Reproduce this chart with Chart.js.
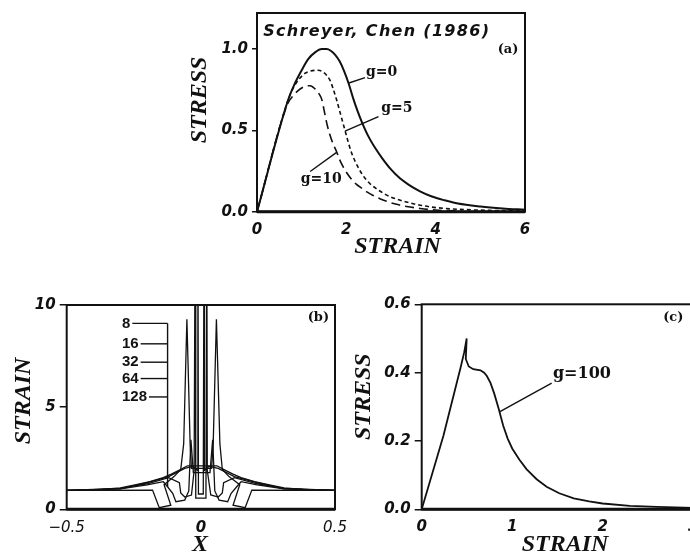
<!DOCTYPE html>
<html><head><meta charset="utf-8">
<script src="https://cdn.jsdelivr.net/npm/chart.js@4.4.1/dist/chart.umd.min.js"></script>
<style>
html,body{margin:0;padding:0;background:#fff;overflow:hidden;width:690px;height:555px;position:relative;}
canvas{position:absolute;}
</style></head><body>
<canvas id="ca" width="360" height="265" style="left:187px;top:0px"></canvas>
<canvas id="cb" width="360" height="275" style="left:0px;top:280px"></canvas>
<canvas id="cc" width="360" height="275" style="left:350px;top:280px"></canvas>
<script>
// ---------- Panel (a): stress-strain, Schreyer & Chen (1986) ----------
const aStrainG0 = [0, 0.7, 0.85, 1.0, 1.15, 1.3, 1.45, 1.56, 1.65, 1.75, 1.85, 1.95, 2.05, 2.15, 2.25, 2.35, 2.5, 2.65, 2.8, 3.0, 3.2, 3.4, 3.65, 3.9, 4.2, 4.5, 5.0, 5.5, 6.0];
const aStressG0 = [0, 0.69, 0.79, 0.87, 0.94, 0.98, 1.0, 1.0, 0.99, 0.965, 0.925, 0.865, 0.79, 0.70, 0.62, 0.55, 0.46, 0.39, 0.33, 0.26, 0.205, 0.165, 0.125, 0.095, 0.07, 0.05, 0.032, 0.02, 0.012];
const aStrainG5 = [0, 0.7, 0.85, 1.07, 1.2, 1.37, 1.5, 1.63, 1.7, 1.78, 1.87, 1.97, 2.05, 2.12, 2.25, 2.38, 2.52, 2.68, 2.85, 3.0, 3.3, 3.6, 3.87, 4.2, 4.5, 5.2, 6.0];
const aStressG5 = [0, 0.69, 0.78, 0.85, 0.865, 0.87, 0.855, 0.81, 0.76, 0.69, 0.6, 0.50, 0.42, 0.36, 0.28, 0.22, 0.175, 0.14, 0.11, 0.09, 0.063, 0.043, 0.03, 0.02, 0.015, 0.008, 0.005];
const aStrainG10 = [0, 0.68, 0.8, 0.92, 1.07, 1.19, 1.3, 1.4, 1.45, 1.52, 1.57, 1.63, 1.7, 1.78, 1.85, 1.93, 2.02, 2.12, 2.22, 2.34, 2.47, 2.6, 2.75, 2.9, 3.1, 3.35, 3.65, 4.0, 4.6];
const aStressG10 = [0, 0.66, 0.71, 0.745, 0.77, 0.775, 0.755, 0.72, 0.69, 0.60, 0.535, 0.475, 0.42, 0.37, 0.32, 0.275, 0.235, 0.198, 0.17, 0.145, 0.12, 0.10, 0.08, 0.064, 0.047, 0.032, 0.02, 0.01, 0.003];
const aXTicks = [0, 2, 4, 6];
const aXTickLabels = ["0", "2", "4", "6"];
const aYTicks = [0, 0.5, 1.0];
const aYTickLabels = ["0.0", "0.5", "1.0"];

// ---------- Panel (b): strain profiles for meshes of 8..128 elements ----------
const bMeshLabels = ["8", "16", "32", "64", "128"];
const bMeshLevels = [9.1, 8.1, 7.2, 6.4, 5.5];
const bX8   = [-0.5, -0.37, -0.3, -0.25, -0.19, -0.14, -0.11, -0.08, -0.05, 0.06, 0.09, 0.12, 0.15, 0.2, 0.26, 0.31, 0.38, 0.5];
const bY8   = [0.93, 0.98, 1.05, 1.18, 1.35, 1.55, 1.72, 1.92, 2.13, 2.13, 1.92, 1.72, 1.55, 1.35, 1.18, 1.05, 0.98, 0.93];
const bX16  = [-0.5, -0.18, -0.155, -0.112, -0.137, -0.1, -0.075, -0.064, -0.052, -0.04, -0.035, 0.04, 0.046, 0.058, 0.071, 0.08, 0.105, 0.145, 0.12, 0.165, 0.19, 0.5];
const bY16  = [0.93, 0.94, 0.08, 0.2, 1.2, 1.6, 1.95, 3.2, 9.3, 3.2, 2.0, 2.0, 3.2, 9.3, 3.2, 1.95, 1.6, 1.2, 0.2, 0.08, 0.94, 0.93];
const bX32  = [-0.5, -0.3, -0.2, -0.14, -0.13, -0.105, -0.093, -0.06, -0.045, -0.037, -0.028, 0.034, 0.044, 0.052, 0.068, 0.1, 0.113, 0.14, 0.15, 0.21, 0.31, 0.5];
const bY32  = [0.93, 1.0, 1.2, 1.35, 1.2, 0.78, 0.37, 0.45, 0.9, 3.4, 1.8, 1.8, 3.4, 0.9, 0.45, 0.37, 0.78, 1.2, 1.35, 1.2, 1.0, 0.93];
const bX64  = [-0.5, -0.3, -0.2, -0.12, -0.08, -0.075, -0.06, -0.035, -0.025, -0.021, -0.019, 0.019, 0.022, 0.024, 0.037, 0.065, 0.08, 0.085, 0.125, 0.21, 0.31, 0.5];
const bY64  = [0.93, 1.02, 1.25, 1.55, 1.3, 0.8, 0.6, 0.7, 1.9, 15, 0.55, 0.55, 15, 1.9, 0.7, 0.6, 0.8, 1.3, 1.55, 1.25, 1.02, 0.93];
const bX128 = [-0.5, -0.3, -0.2, -0.12, -0.06, -0.03, -0.012, -0.011, -0.009, 0.009, 0.012, 0.013, 0.03, 0.065, 0.125, 0.21, 0.31, 0.5];
const bY128 = [0.93, 1.0, 1.3, 1.6, 2.0, 2.1, 1.9, 15, 0.75, 0.75, 15, 1.9, 2.1, 2.0, 1.6, 1.3, 1.0, 0.93];
const bXTicks = [-0.5, 0, 0.5];
const bXTickLabels = ["\u22120.5", "0", "0.5"];
const bYTicks = [0, 5, 10];
const bYTickLabels = ["0", "5", "10"];

// ---------- Panel (c): stress-strain for g = 100 ----------
const cStrain = [0, 0.24, 0.43, 0.47, 0.497, 0.487, 0.52, 0.57, 0.65, 0.69, 0.72, 0.76, 0.8, 0.85, 0.9, 0.95, 1.0, 1.08, 1.16, 1.27, 1.38, 1.52, 1.68, 1.85, 2.0, 2.3, 2.6, 3.0];
const cStress = [0, 0.215, 0.415, 0.46, 0.50, 0.44, 0.418, 0.41, 0.407, 0.4, 0.39, 0.37, 0.34, 0.295, 0.245, 0.207, 0.178, 0.145, 0.117, 0.088, 0.066, 0.047, 0.032, 0.023, 0.017, 0.01, 0.007, 0.004];
const cXTicks = [0, 1, 2, 3];
const cXTickLabels = ["0", "1", "2", "3"];
const cYTicks = [0, 0.2, 0.4, 0.6];
const cYTickLabels = ["0.0", "0.2", "0.4", "0.6"];

const ink = '#111';
const tickFont = {family: 'DejaVu Sans', size: 15, style: 'italic', weight: 'bold'};
const titleFont = "italic bold 24px 'Liberation Serif'";
const noteFont = "bold 14px 'DejaVu Serif'";
const panelFont = "bold 13px 'DejaVu Serif'";

function pts(xs, ys) { return xs.map((x, i) => ({x: x, y: ys[i]})); }

const framePlugin = {
  id: 'frame',
  afterDatasetsDraw(chart, args, opts) {
    const {ctx, chartArea: a} = chart;
    ctx.save();
    ctx.strokeStyle = ink; ctx.lineWidth = 2;
    ctx.strokeRect(a.left, a.top, a.right - a.left, a.bottom - a.top);
    ctx.lineWidth = 3;
    ctx.beginPath(); ctx.moveTo(a.left, a.bottom); ctx.lineTo(a.right, a.bottom); ctx.stroke();
    ctx.restore();
  }
};

const notesPlugin = {
  id: 'notes',
  afterDraw(chart, args, opts) {
    const {ctx} = chart;
    const x = chart.scales.x, y = chart.scales.y;
    ctx.save();
    ctx.fillStyle = ink; ctx.strokeStyle = ink;
    (opts.lines || []).forEach(l => {
      ctx.lineWidth = l.w || 1.4;
      ctx.beginPath();
      ctx.moveTo(x.getPixelForValue(l.x1), y.getPixelForValue(l.y1));
      ctx.lineTo(x.getPixelForValue(l.x2), y.getPixelForValue(l.y2));
      ctx.stroke();
    });
    (opts.texts || []).forEach(t => {
      ctx.save();
      ctx.font = t.font; ctx.textAlign = t.align || 'left'; ctx.textBaseline = 'middle';
      if (t.spacing) ctx.letterSpacing = t.spacing;
      ctx.fillText(t.text, x.getPixelForValue(t.x), y.getPixelForValue(t.y));
      ctx.restore();
    });
    if (opts.legend) {
      const L = opts.legend;
      ctx.font = L.font; ctx.textAlign = 'left'; ctx.textBaseline = 'middle'; ctx.lineWidth = 1.4;
      const bx = x.getPixelForValue(L.bracketX);
      L.labels.forEach((s, i) => {
        const px = x.getPixelForValue(L.textX), py = y.getPixelForValue(L.levels[i]);
        ctx.fillText(s, px, py);
        const w = ctx.measureText(s).width;
        ctx.beginPath(); ctx.moveTo(px + w + 2, py); ctx.lineTo(bx, py); ctx.stroke();
      });
      ctx.beginPath();
      ctx.moveTo(bx, y.getPixelForValue(L.levels[0]));
      ctx.lineTo(bx, y.getPixelForValue(L.bracketBottom));
      ctx.stroke();
    }
    (opts.titles || []).forEach(t => {
      ctx.save();
      ctx.font = titleFont; ctx.textAlign = 'center'; ctx.textBaseline = 'middle';
      ctx.translate(t.px, t.py);
      if (t.rot) ctx.rotate(-Math.PI / 2);
      ctx.fillText(t.text, 0, 0);
      ctx.restore();
    });
    ctx.restore();
  }
};

function axes(o) {
  return {
    x: {
      type: 'linear', min: o.xmin, max: o.xmax,
      afterBuildTicks: s => { s.ticks = o.xTicks.map(v => ({value: v})); },
      afterFit: s => { s.height = o.xh; },
      grid: {display: false, drawTicks: false},
      border: {display: false},
      ticks: {color: ink, padding: o.xpad, font: o.xFont || tickFont,
        callback: (v) => o.xLabels[o.xTicks.indexOf(v)], maxRotation: 0, autoSkip: false}
    },
    y: {
      type: 'linear', min: o.ymin, max: o.ymax,
      afterBuildTicks: s => { s.ticks = o.yTicks.map(v => ({value: v})); },
      afterFit: s => { s.width = o.yw; },
      grid: {display: true, drawOnChartArea: false, drawTicks: true, tickLength: o.tl, color: ink, lineWidth: 1.5},
      border: {display: false},
      ticks: {color: ink, padding: o.ypad, font: tickFont,
        callback: (v) => o.yLabels[o.yTicks.indexOf(v)], autoSkip: false}
    }
  };
}

function line(data, w, dash, mode) {
  const d = {data: data, showLine: true, pointRadius: 0, borderColor: ink, borderWidth: w, borderDash: dash || [], fill: false, tension: 0};
  if (mode) d.cubicInterpolationMode = mode;
  return d;
}

// Panel (a)
new Chart(document.getElementById('ca'), {
  type: 'scatter',
  data: {datasets: [
    line(pts(aStrainG0, aStressG0), 2, [], 'monotone'),
    line(pts(aStrainG5, aStressG5), 1.6, [4, 3], 'monotone'),
    line(pts(aStrainG10, aStressG10), 1.6, [9, 5], 'monotone')
  ]},
  options: {
    responsive: false, animation: false, devicePixelRatio: 1,
    layout: {padding: {left: 0, top: 6, right: 22, bottom: 0}},
    scales: axes({xmin: 0, xmax: 6, ymin: 0, ymax: 1.222, xTicks: aXTicks, xLabels: aXTickLabels,
      yTicks: aYTicks, yLabels: aYTickLabels, xh: 53.3, yw: 70, xpad: 9, ypad: 4, tl: 5}),
    plugins: {
      legend: {display: false}, tooltip: {enabled: false},
      notes: {
        lines: [
          {x1: 2.04, y1: 0.79, x2: 2.42, y2: 0.825},
          {x1: 1.97, y1: 0.495, x2: 2.72, y2: 0.585},
          {x1: 1.79, y1: 0.366, x2: 1.19, y2: 0.247}
        ],
        texts: [
          {text: 'Schreyer, Chen (1986)', x: 0.14, y: 1.105, font: "italic bold 16px 'DejaVu Sans'", spacing: '1.3px'},
          {text: '(a)', x: 5.62, y: 0.995, font: panelFont, align: 'center'},
          {text: 'g=0', x: 2.44, y: 0.855, font: noteFont},
          {text: 'g=5', x: 2.78, y: 0.635, font: noteFont},
          {text: 'g=10', x: 0.98, y: 0.2, font: noteFont}
        ],
        titles: [
          {text: 'STRESS', px: 13, py: 100, rot: true},
          {text: 'STRAIN', px: 210.5, py: 247}
        ]
      }
    }
  },
  plugins: [framePlugin, notesPlugin]
});

// Panel (b)
new Chart(document.getElementById('cb'), {
  type: 'scatter',
  data: {datasets: [
    line(pts(bX8, bY8), 1.3),
    line(pts(bX16, bY16), 1.3),
    line(pts(bX32, bY32), 1.3),
    line(pts(bX64, bY64), 1.3),
    line(pts(bX128, bY128), 1.3)
  ]},
  options: {
    responsive: false, animation: false, devicePixelRatio: 1,
    layout: {padding: {left: 0, top: 25, right: 25, bottom: 0}},
    scales: axes({xmin: -0.5, xmax: 0.5, ymin: 0, ymax: 10, xTicks: bXTicks, xLabels: bXTickLabels,
      yTicks: bYTicks, yLabels: bYTickLabels, xh: 45.7, yw: 66.7, xpad: 10, ypad: 4, tl: 7,
      xFont: (c) => ({family: 'DejaVu Sans', size: 15, style: 'italic', weight: (c.tick && c.tick.value === 0) ? 'bold' : 'normal'})}),
    plugins: {
      legend: {display: false}, tooltip: {enabled: false},
      notes: {
        texts: [
          {text: '(b)', x: 0.438, y: 9.36, font: panelFont, align: 'center'}
        ],
        legend: {labels: bMeshLabels, levels: bMeshLevels, textX: -0.294, bracketX: -0.124, bracketBottom: 1.1,
          font: "bold 15px 'Liberation Sans'"},
        titles: [
          {text: 'STRAIN', px: 23.3, py: 121, rot: true},
          {text: 'X', px: 200, py: 265}
        ]
      }
    }
  },
  plugins: [framePlugin, notesPlugin]
});

// Panel (c)
new Chart(document.getElementById('cc'), {
  type: 'scatter',
  data: {datasets: [
    line(pts(cStrain, cStress), 1.8)
  ]},
  options: {
    responsive: false, animation: false, devicePixelRatio: 1,
    layout: {padding: {left: 0, top: 24.3, right: 16.8, bottom: 0}},
    scales: axes({xmin: 0, xmax: 3, ymin: 0, ymax: 0.6, xTicks: cXTicks, xLabels: cXTickLabels,
      yTicks: cYTicks, yLabels: cYTickLabels, xh: 45.7, yw: 71.7, xpad: 9, ypad: 4, tl: 7}),
    plugins: {
      legend: {display: false}, tooltip: {enabled: false},
      notes: {
        lines: [
          {x1: 0.865, y1: 0.286, x2: 1.436, y2: 0.369}
        ],
        texts: [
          {text: '(c)', x: 2.78, y: 0.56, font: panelFont, align: 'center'},
          {text: 'g=100', x: 1.45, y: 0.395, font: "bold 16px 'DejaVu Serif'"}
        ],
        titles: [
          {text: 'STRESS', px: 14, py: 116.7, rot: true},
          {text: 'STRAIN', px: 215, py: 264.5}
        ]
      }
    }
  },
  plugins: [framePlugin, notesPlugin]
});
</script>
</body></html>
